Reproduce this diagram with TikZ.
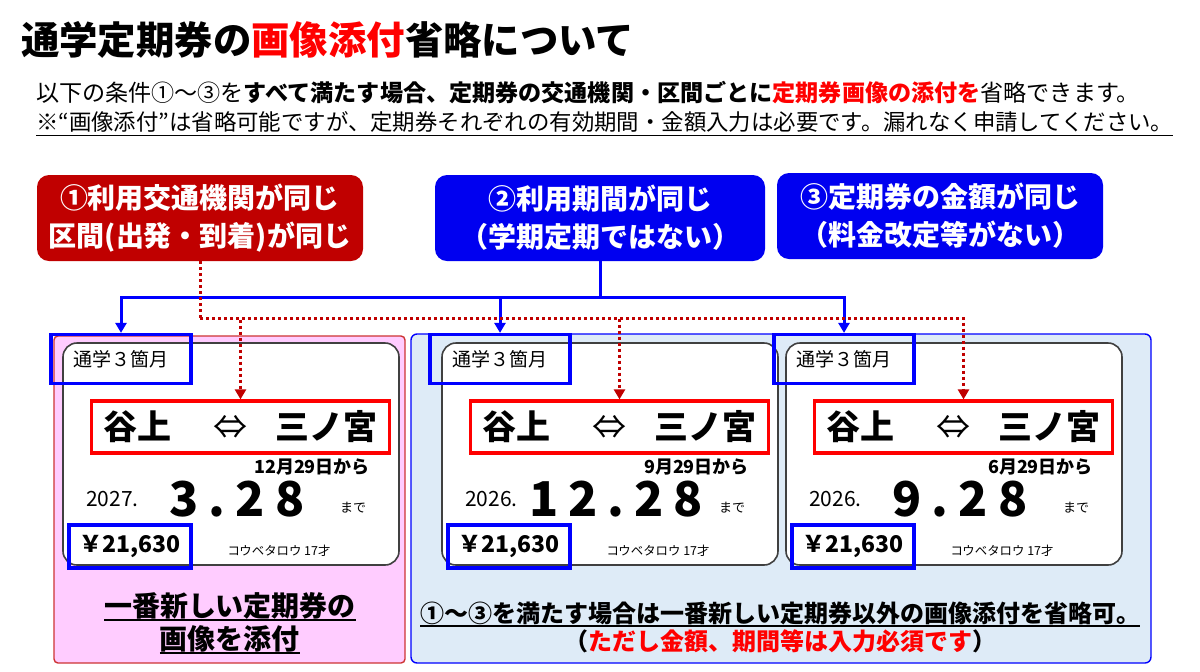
\documentclass[tikz,border=0pt]{standalone}
\usepackage{fontspec}
\setmainfont{Noto Sans CJK JP}
\usetikzlibrary{arrows.meta,positioning,calc}
\definecolor{condred}{HTML}{C00000}
\definecolor{condblue}{HTML}{0000F0}
\definecolor{markblue}{HTML}{0000FF}
\definecolor{markred}{HTML}{FF0000}
\definecolor{pinkpanel}{HTML}{FFCCFF}
\definecolor{bluepanel}{HTML}{DEEBF7}
\definecolor{cardline}{HTML}{404040}
\newcommand\undl[2][0.9pt]{\setbox0\hbox{#2}\rlap{\rule[-2.5pt]{\wd0}{#1}}\box0}
\newcommand\dgap{\hspace{5pt}}
\tikzset{
  cond/.style={rounded corners=6pt, minimum width=163pt, minimum height=43pt,
    text=white, align=center, font=\fontsize{14}{19}\selectfont\bfseries},
  card/.style={draw=cardline, line width=0.8pt, fill=white, rounded corners=7pt,
    minimum width=168pt, minimum height=111pt},
  termbox/.style={draw=markblue, line width=1.6pt, minimum width=70pt,
    minimum height=24.5pt, font=\fontsize{9.5}{11}\selectfont},
  routebox/.style={draw=markred, line width=1.6pt, minimum width=149pt,
    minimum height=26pt, font=\fontsize{17}{20}\selectfont\bfseries},
  pricebox/.style={draw=markblue, line width=1.6pt, minimum width=61pt,
    minimum height=21.5pt, font=\fontsize{11.5}{13}\selectfont\bfseries},
  fromdate/.style={anchor=east, font=\fontsize{9}{10}\selectfont\bfseries},
  yearlabel/.style={anchor=west, font=\fontsize{10.5}{12}\selectfont},
  enddate/.style={font=\fontsize{24}{26}\selectfont\bfseries},
  upto/.style={anchor=west, font=\fontsize{6.5}{7}\selectfont},
  owner/.style={font=\fontsize{6.2}{7}\selectfont},
  bluelink/.style={draw=markblue, line width=1.5pt},
  redlink/.style={draw=condred, line width=1.5pt, dash pattern=on 1.5pt off 1.5pt},
}
\begin{document}
\begin{tikzpicture}[x=0.5pt, y=-0.5pt, >={Triangle[length=5pt,width=5.5pt]}]
\useasboundingbox (0,0) rectangle (1200,671);
% heading and the two lines under it
\node[anchor=west, font=\fontsize{19.2}{23}\selectfont\bfseries] (title) at (14,40)
  {通学定期券の\textcolor{markred}{画像添付}省略について};
\node[anchor=west, font=\fontsize{11.55}{14}\selectfont] (lead) at (29,93)
  {以下の条件①～③を\textbf{すべて満たす場合、定期券の交通機関・区間ごとに}\textcolor{markred}{\textbf{定期券画像の添付を}}省略できます。};
\node[anchor=west, font=\fontsize{11.2}{14}\selectfont] (remark) at (29,124)
  {\undl[0.6pt]{※“画像添付”は省略可能ですが、定期券それぞれの有効期間・金額入力は必要です。漏れなく申請してください。}};
% the two panels behind the tickets
\draw[condred!80!white, line width=0.7pt, fill=pinkpanel, rounded corners=2pt] (54,336) rectangle (405,663);
\draw[markblue, line width=0.7pt, fill=bluepanel, rounded corners=3pt] (411,334) rectangle (1151,663);
% conditions 1 to 3
\node[cond, fill=condred] (cond1) at (200,218) {①利用交通機関が同じ\\区間(出発・到着)が同じ};
\node[cond, fill=condblue, minimum width=165pt] (cond2) at (600,218) {②利用期間が同じ\\（学期定期ではない）};
\node[cond, fill=condblue] (cond3) at (940,216) {③定期券の金額が同じ\\（料金改定等がない）};
% tickets, newest first
\foreach \k/\cx/\yr/\md/\frm in {A/231/2027./{3\dgap.\dgap2\dgap8}/12月29日から,
    B/610/2026./{1\dgap2\dgap.\dgap2\dgap8}/9月29日から,
    C/954/2026./{9\dgap.\dgap2\dgap8}/6月29日から} {
  \node[card] (card\k) at (\cx,454) {};
  \node[termbox] (term\k) at ({\cx-110},359) {通学３箇月};
  \node[routebox] (route\k) at ({\cx+9.5},427) {谷上\hspace{21pt}{\mdseries ⇔}\hspace{14pt}三ノ宮};
  \node[fromdate] (from\k) at ({\cx+146},467) {\frm};
  \node[yearlabel] (year\k) at ({\cx-152},499) {\yr};
  \node[enddate] (until\k) at ({\cx+6},499) {\md};
  \node[upto] (upto\k) at ({\cx+102},508) {まで};
  \node[pricebox] (price\k) at ({\cx-101},546.5) {￥21,630};
  \node[owner] (owner\k) at ({\cx+48},551) {コウベタロウ 17才};
}
% condition 2 and 3 point at the term and the price
\coordinate (bluebus) at (600,297);
\draw[bluelink] (cond2.south) -- (bluebus);
\foreach \k in {A,B,C} \draw[bluelink,->] (bluebus) -| (term\k.north);
% condition 1 points at the route
\coordinate (redbus) at (200,318);
\draw[redlink] (cond1.south) -- (redbus);
\foreach \k in {A,B,C} \draw[redlink,->] (redbus) -| (route\k.north);
% notes under the panels
\node[font=\fontsize{14}{16.5}\selectfont\bfseries, align=center] (newest) at (230,623)
  {\undl{一番新しい定期券の}\\\undl{画像を添付}};
\node[font=\fontsize{12}{14}\selectfont\bfseries, align=center] (omit) at (780,627)
  {\undl{①～③を満たす場合は一番新しい定期券以外の画像添付を省略可。}\\（\textcolor{markred}{ただし金額、期間等は入力必須です}）};
\end{tikzpicture}
\end{document}
